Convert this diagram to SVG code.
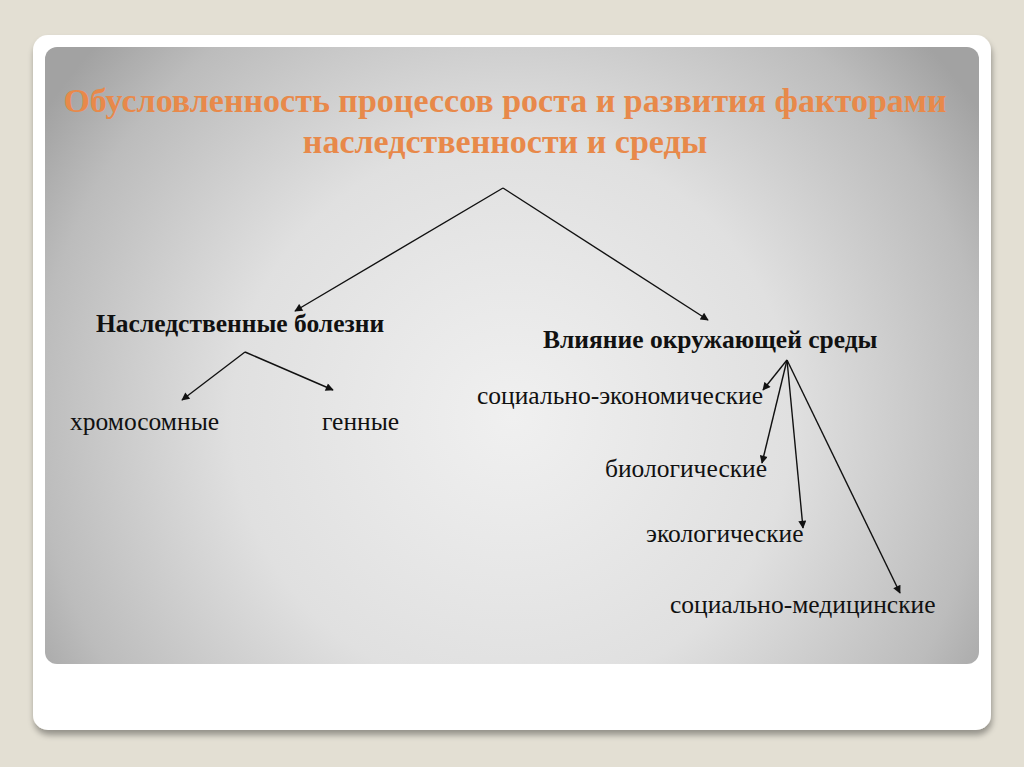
<svg xmlns="http://www.w3.org/2000/svg" width="1024" height="767" viewBox="0 0 1024 767">
<style>
.title{font-family:"Liberation Serif",serif;font-weight:bold;font-size:34px;fill:#e8894a;text-anchor:middle}
.head{font-family:"Liberation Serif",serif;font-weight:bold;font-size:25.5px;fill:#111}
.item{font-family:"Liberation Serif",serif;font-size:25.5px;fill:#111}
.conn line{stroke:#111;stroke-width:1.4;marker-end:url(#arr)}
</style>
<defs>
<marker id="arr" viewBox="0 0 10 10" refX="9" refY="5" markerWidth="9" markerHeight="8" markerUnits="userSpaceOnUse" orient="auto">
<path d="M0,0 L10,5 L0,10 z" fill="#111"/>
</marker>
<radialGradient id="panel" cx="0.5" cy="0.6" r="0.6" gradientTransform="translate(0.5 0.6) scale(1 1.5) translate(-0.5 -0.6)">
<stop offset="0" stop-color="#f0f0f0"/>
<stop offset="0.5" stop-color="#e0e0e0"/>
<stop offset="0.85" stop-color="#bcbcbc"/>
<stop offset="1" stop-color="#a2a2a2"/>
</radialGradient>
<filter id="sh" x="-5%" y="-5%" width="110%" height="115%">
<feGaussianBlur in="SourceAlpha" stdDeviation="3"/>
<feOffset dx="1" dy="5"/>
<feComponentTransfer><feFuncA type="linear" slope="0.35"/></feComponentTransfer>
<feMerge><feMergeNode/><feMergeNode in="SourceGraphic"/></feMerge>
</filter>
</defs>
<rect width="1024" height="767" fill="#e3dfd3"/>
<rect x="33" y="35" width="958" height="695" rx="15" fill="#ffffff" filter="url(#sh)"/>
<rect x="45" y="47" width="934" height="617" rx="12" fill="url(#panel)"/>
<g id="title">
<text class="title" x="505" y="112">Обусловленность процессов роста и развития факторами</text>
<text class="title" x="505" y="153">наследственности и среды</text>
</g>
<g id="n-hered"><text class="head" x="96" y="332">Наследственные болезни</text></g>
<g id="n-env"><text class="head" x="543" y="348">Влияние окружающей среды</text></g>
<g id="n-chrom"><text class="item" x="70" y="430">хромосомные</text></g>
<g id="n-gene"><text class="item" x="322" y="430">генные</text></g>
<g id="n-socec"><text class="item" x="477" y="404">социально-экономические</text></g>
<g id="n-bio"><text class="item" x="605" y="477">биологические</text></g>
<g id="n-eco"><text class="item" x="646" y="542">экологические</text></g>
<g id="n-socmed"><text class="item" x="670" y="613">социально-медицинские</text></g>
<g id="connectors" class="conn">
<line x1="503" y1="188" x2="295" y2="311"/>
<line x1="503" y1="188" x2="708" y2="320"/>
<line x1="245" y1="352" x2="182" y2="400"/>
<line x1="245" y1="352" x2="333" y2="390"/>
<line x1="787" y1="360" x2="763" y2="390"/>
<line x1="787" y1="360" x2="762" y2="463"/>
<line x1="787" y1="360" x2="803" y2="528"/>
<line x1="787" y1="360" x2="900" y2="593"/>
</g>
</svg>
